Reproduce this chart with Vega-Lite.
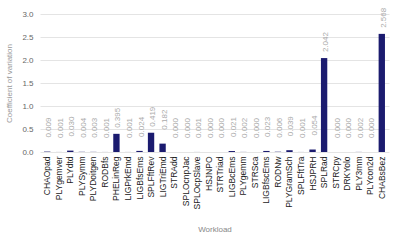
{
  "$schema": "https://vega.github.io/schema/vega-lite/v6.json",
  "width": 349,
  "height": 138,
  "autosize": {"type": "none"},
  "padding": {"left": 40, "top": 14, "right": 8, "bottom": 89},
  "background": "white",
  "config": {
    "view": {"stroke": null},
    "font": "Liberation Sans",
    "axis": {"labelFont": "Liberation Sans", "titleFont": "Liberation Sans", "titleFontWeight": "normal"}
  },
  "data": {"values": [
    {"workload": "CHAOpad", "cv": 0.009},
    {"workload": "PLYgemver", "cv": 0.001},
    {"workload": "PLYdtd", "cv": 0.030},
    {"workload": "PLYSymm", "cv": 0.004},
    {"workload": "PLYDoitgen", "cv": 0.003},
    {"workload": "RODBfs", "cv": 0.001},
    {"workload": "PHELinReg", "cv": 0.395},
    {"workload": "LIGPrkEmd", "cv": 0.001},
    {"workload": "LIGBfsEms", "cv": 0.024},
    {"workload": "SPLFftRev", "cv": 0.419},
    {"workload": "LIGTriEmd", "cv": 0.182},
    {"workload": "STRAdd", "cv": 0.000},
    {"workload": "SPLOcnpJac", "cv": 0.000},
    {"workload": "SPLOcpSlave", "cv": 0.001},
    {"workload": "HSJNPO", "cv": 0.000},
    {"workload": "STRTriad", "cv": 0.000},
    {"workload": "LIGBcEms", "cv": 0.021},
    {"workload": "PLYgemm", "cv": 0.002},
    {"workload": "STRSca", "cv": 0.000},
    {"workload": "LIGBfscEms", "cv": 0.023},
    {"workload": "RODNw", "cv": 0.006},
    {"workload": "PLYGramSch", "cv": 0.039},
    {"workload": "SPLFftTra", "cv": 0.001},
    {"workload": "HSJPRH", "cv": 0.054},
    {"workload": "SPLRad", "cv": 2.042},
    {"workload": "STRCpy", "cv": 0.000},
    {"workload": "DRKYolo", "cv": 0.000},
    {"workload": "PLY3mm", "cv": 0.002},
    {"workload": "PLYcon2d", "cv": 0.000},
    {"workload": "CHABsBez", "cv": 2.568}
  ]},
  "encoding": {
    "x": {
      "field": "workload", "type": "nominal", "sort": null,
      "scale": {"paddingInner": 0.45, "paddingOuter": 0.35},
      "axis": {
        "title": "Workload", "titleColor": "#888888", "titleFontSize": 8, "titlePadding": 17,
        "labelAngle": -90, "labelFontSize": 8.5, "labelColor": "#222222", "labelPadding": 4,
        "ticks": false, "domain": false, "grid": false
      }
    },
    "y": {
      "field": "cv", "type": "quantitative",
      "scale": {"domain": [0, 3]},
      "axis": {
        "title": "Coefficient of variation", "titleColor": "#999999", "titleFontSize": 8, "titlePadding": 8,
        "values": [0, 0.5, 1, 1.5, 2, 2.5, 3], "format": ".1f",
        "labelFontSize": 8, "labelColor": "#666666", "labelPadding": 7,
        "ticks": false, "domain": false, "gridColor": "#e4e4e4", "gridWidth": 1
      }
    }
  },
  "layer": [
    {"mark": {"type": "bar", "color": "#1b1b6f"}},
    {
      "mark": {
        "type": "text", "angle": 270, "align": "left", "baseline": "middle",
        "fontSize": 8, "color": "#aaaaaa",
        "dx": {"expr": "datum.cv > 0.3 ? 6 : 14"}, "dy": 2
      },
      "encoding": {"text": {"field": "cv", "type": "quantitative", "format": ".3f"}}
    }
  ]
}
